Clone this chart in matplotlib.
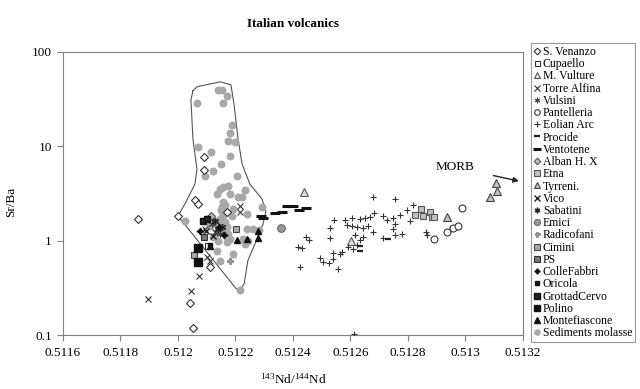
import matplotlib
matplotlib.use("Agg")
import matplotlib.pyplot as plt
from matplotlib.ticker import FixedLocator, FixedFormatter, NullLocator

plt.rcParams['font.family'] = ['Liberation Serif', 'DejaVu Serif']

# ---------------- data ----------------
s_venanzo_x = [0.511861, 0.512000, 0.512059, 0.512070, 0.512042, 0.512052, 0.512111, 0.512090, 0.512090, 0.512170]
s_venanzo_y = [1.71, 1.83, 2.70, 2.45, 0.217, 0.1186, 0.532, 7.66, 5.58, 2.02]

cupaello_x = [0.512104]
cupaello_y = [0.885]

m_vulture_x = [0.512438, 0.512602]
m_vulture_y = [3.28, 1.00]

torre_alfina_x = [0.511896, 0.512045, 0.512073, 0.512100, 0.512111, 0.512094, 0.512129, 0.512216, 0.512216]
torre_alfina_y = [0.239, 0.290, 0.418, 0.679, 0.615, 1.34, 1.24, 2.33, 2.02]

vulsini_x = [0.512118, 0.512146]
vulsini_y = [1.51, 1.19]

pantelleria_x = [0.512988, 0.512936, 0.512956, 0.512974, 0.512890]
pantelleria_y = [2.22, 1.24, 1.37, 1.44, 1.03]

eolian_x = [0.512677, 0.512756, 0.512818, 0.512795, 0.512772, 0.512749, 0.512714, 0.512726,
            0.512682, 0.512668, 0.512650, 0.512633, 0.512604, 0.512581, 0.512543, 0.512587,
            0.512604, 0.512621, 0.512642, 0.512662, 0.512679, 0.512644, 0.512616, 0.512529,
            0.512529, 0.512445, 0.512457, 0.512418, 0.512430, 0.512755, 0.512749, 0.512807,
            0.512714, 0.512755, 0.512778, 0.512863, 0.512865, 0.512621, 0.512610, 0.512569,
            0.512563, 0.512540, 0.512494, 0.512505, 0.512526, 0.512540, 0.512424, 0.512557,
            0.512592, 0.512633, 0.512612]
eolian_y = [2.93, 2.77, 2.39, 2.12, 1.85, 1.75, 1.82, 1.64,
            1.97, 1.78, 1.73, 1.71, 1.75, 1.66, 1.64, 1.47,
            1.43, 1.39, 1.36, 1.43, 1.24, 1.09, 1.14, 1.36,
            1.07, 1.09, 1.01, 0.859, 0.843, 1.51, 1.34, 1.61,
            1.07, 1.16, 1.19, 1.25, 1.14, 0.893, 0.824, 0.760,
            0.730, 0.748, 0.658, 0.597, 0.586, 0.635, 0.528, 0.495,
            0.859, 1.01, 0.102]

procide_x = [0.512633, 0.512730, 0.512633]
procide_y = [0.785, 1.05, 0.885]

ventotene_x = [0.512289, 0.512296, 0.512337, 0.512362, 0.512380, 0.512400, 0.512421, 0.512445]
ventotene_y = [1.83, 1.75, 1.97, 2.02, 2.33, 2.33, 2.12, 2.22]

alban_x = [0.512115]
alban_y = [1.83]

etna_x = [0.512824, 0.512845, 0.512852, 0.512876, 0.512883, 0.512890]
etna_y = [1.88, 2.17, 1.83, 2.02, 1.79, 1.79]

tyrreni_x = [0.512936, 0.513106, 0.513110, 0.513085]
tyrreni_y = [1.79, 4.08, 3.36, 2.90]

vico_x = [0.512097, 0.512122]
vico_y = [1.27, 1.13]

sabatini_x = [0.512129, 0.512139, 0.512153]
sabatini_y = [1.63, 1.34, 1.40]

emici_x = [0.512358]
emici_y = [1.37]

radicofani_x = [0.512181]
radicofani_y = [0.615]

cimini_x = [0.512056, 0.512202]
cimini_y = [0.713, 1.34]

ps_x = [0.512090]
ps_y = [1.10]

collefabbri_x = [0.512143, 0.512160, 0.512077]
collefabbri_y = [1.40, 1.16, 1.27]

oricola_x = [0.512111]
oricola_y = [0.908]

grottad_x = [0.512087, 0.512100]
grottad_y = [1.63, 1.70]

polino_x = [0.512070, 0.512070]
polino_y = [0.843, 0.601]

montefiascone_x = [0.512278, 0.512278, 0.512240, 0.512205, 0.512111]
montefiascone_y = [1.27, 1.08, 1.05, 1.026, 0.885]

sediments_x = [0.512139, 0.512153, 0.512170, 0.512066, 0.512156, 0.512188, 0.512181, 0.512174,
               0.512198, 0.512070, 0.512115, 0.512181, 0.512150, 0.512122, 0.512094, 0.512205,
               0.512156, 0.512174, 0.512136, 0.512146, 0.512233, 0.512181, 0.512209, 0.512223,
               0.512292, 0.512240, 0.512024, 0.512240, 0.512261, 0.512282, 0.512226, 0.512243,
               0.512233, 0.512136, 0.512146, 0.512191, 0.512216, 0.512156, 0.512153, 0.512156,
               0.512153, 0.512163, 0.512146, 0.512170, 0.512156, 0.512174, 0.512181, 0.512136,
               0.512122, 0.512139, 0.512170, 0.512188, 0.512191, 0.512129, 0.512111, 0.512163,
               0.512150, 0.512160, 0.512146]
sediments_y = [39.8, 39.8, 34.4, 29.0, 29.0, 17.0, 14.0, 11.3,
               11.0, 9.75, 8.65, 7.85, 6.47, 5.46, 4.83, 4.83,
               3.70, 3.79, 3.12, 3.52, 3.44, 3.12, 2.90, 2.90,
               2.28, 1.92, 1.63, 1.34, 1.34, 1.31, 1.05, 1.00,
               0.929, 0.785, 0.615, 0.730, 0.298, 2.57, 2.28, 2.02,
               1.79, 1.58, 1.44, 1.40, 1.24, 1.19, 1.05, 1.24,
               1.10, 1.00, 0.976, 1.83, 2.17, 1.58, 1.44, 2.40,
               2.10, 1.90, 1.70]

field_x = [0.512052, 0.512066, 0.512146, 0.512184, 0.512195, 0.512209, 0.512223, 0.512250,
           0.512292, 0.512306, 0.512296, 0.512271, 0.512243, 0.512230, 0.512216, 0.512202,
           0.512000, 0.512024, 0.512059, 0.512066, 0.512052, 0.512045, 0.512052]
field_y = [38.8, 42.8, 48.3, 45.0, 27.7, 11.9, 6.47, 3.98,
           2.77, 2.07, 1.51, 0.976, 0.615, 0.35, 0.298, 0.31,
           1.83, 2.45, 3.98, 5.73, 11.9, 31.2, 38.8]

x_ticks = [0.5116, 0.5118, 0.5120, 0.5122, 0.5124, 0.5126, 0.5128, 0.5130, 0.5132]
x_tick_labels = ['0.5116', '0.5118', '0.512', '0.5122', '0.5124', '0.5126', '0.5128', '0.513', '0.5132']
y_ticks = [0.1, 1, 10, 100]
y_tick_labels = ['0.1', '1', '10', '100']

# ---------------- figure ----------------
fig = plt.figure(figsize=(6.4, 3.89), dpi=100)
ax = fig.add_axes([63/640, 1-335/389, 460/640, 283/389])
ax.set_yscale('log')
ax.set_xlim(0.5116, 0.5132)
ax.set_ylim(0.1, 100)

ax.plot(field_x, field_y, color='#555555', lw=0.8, zorder=1)

ast = (6, 2, 0)
series = [
    ('S. Venanzo', s_venanzo_x, s_venanzo_y, dict(marker='D', mfc='white', mec='#333333', ms=4.2, mew=0.8)),
    ('Cupaello', cupaello_x, cupaello_y, dict(marker='s', mfc='white', mec='#333333', ms=4.5, mew=0.8)),
    ('M. Vulture', m_vulture_x, m_vulture_y, dict(marker='^', mfc='#e0e0e0', mec='#555555', ms=5.5, mew=0.8)),
    ('Torre Alfina', torre_alfina_x, torre_alfina_y, dict(marker='x', color='#333333', ms=5, mew=0.8)),
    ('Vulsini', vulsini_x, vulsini_y, dict(marker=ast, color='#444444', ms=5, mew=0.8)),
    ('Pantelleria', pantelleria_x, pantelleria_y, dict(marker='o', mfc='white', mec='#333333', ms=5, mew=0.8)),
    ('Eolian Arc', eolian_x, eolian_y, dict(marker='+', color='#333333', ms=5, mew=0.8)),
    ('Procide', procide_x, procide_y, dict(marker='_', color='#222222', ms=5, mew=1.6)),
    ('Ventotene', ventotene_x, ventotene_y, dict(marker='_', color='#111111', ms=7, mew=2.2)),
    ('Alban H. X', alban_x, alban_y, dict(marker='D', mfc='#bbbbbb', mec='#555555', ms=4.2, mew=0.8)),
    ('Etna', etna_x, etna_y, dict(marker='s', mfc='#c0c0c0', mec='#555555', ms=5, mew=0.8)),
    ('Tyrreni.', tyrreni_x, tyrreni_y, dict(marker='^', mfc='#c0c0c0', mec='#444444', ms=5.5, mew=0.8)),
    ('Vico', vico_x, vico_y, dict(marker='x', color='#222222', ms=5, mew=1.0)),
    ('Sabatini', sabatini_x, sabatini_y, dict(marker=ast, color='#222222', ms=5, mew=1.0)),
    ('Emici', emici_x, emici_y, dict(marker='o', mfc='#999999', mec='#666666', ms=5.5, mew=0.8)),
    ('Radicofani', radicofani_x, radicofani_y, dict(marker='P', mfc='#999999', mec='#777777', ms=4.5, mew=0.5)),
    ('Cimini', cimini_x, cimini_y, dict(marker='s', mfc='#aaaaaa', mec='#444444', ms=5, mew=0.8)),
    ('PS', ps_x, ps_y, dict(marker='s', mfc='#777777', mec='#333333', ms=5, mew=0.8)),
    ('ColleFabbri', collefabbri_x, collefabbri_y, dict(marker=(4, 1, 0), color='#111111', ms=5)),
    ('Oricola', oricola_x, oricola_y, dict(marker='s', color='#111111', ms=3.5)),
    ('GrottadCervo', grottad_x, grottad_y, dict(marker='s', mfc='#222222', mec='#111111', ms=5)),
    ('Polino', polino_x, polino_y, dict(marker='s', color='#111111', ms=6)),
    ('Montefiascone', montefiascone_x, montefiascone_y, dict(marker='^', color='#111111', ms=5)),
    ('Sediments molasse', sediments_x, sediments_y, dict(marker='o', mfc='#a8a8a8', mec='#a8a8a8', ms=4.7)),
]

handles = []
for name, xs, ys, kw in series:
    z = 2 if name == 'Sediments molasse' else 3
    h, = ax.plot(xs, ys, linestyle='none', label=name, zorder=z, **kw)
    handles.append(h)

# axes styling
for sp in ax.spines.values():
    sp.set_color('#808080')
    sp.set_linewidth(0.8)
ax.xaxis.set_major_locator(FixedLocator(x_ticks))
ax.xaxis.set_major_formatter(FixedFormatter(x_tick_labels))
ax.yaxis.set_major_locator(FixedLocator(y_ticks))
ax.yaxis.set_major_formatter(FixedFormatter(y_tick_labels))
ax.xaxis.set_minor_locator(NullLocator())
ax.yaxis.set_minor_locator(NullLocator())
ax.tick_params(axis='both', direction='out', length=4, width=0.8, color='#808080',
               labelsize=9.5)
ax.tick_params(axis='x', pad=5)
ax.tick_params(axis='y', pad=4)

ax.set_title('Italian volcanics', fontsize=9.5, fontweight='bold', pad=18)
ax.set_xlabel(r'$\mathregular{^{143}Nd/^{144}Nd}$', fontsize=9.5, labelpad=9)
ax.set_ylabel('Sr/Ba', fontsize=9.5)
ax.yaxis.set_label_coords(-0.10, 0.47)

ax.annotate('MORB', xy=(0.513186, 4.28), xytext=(0.512963, 6.0),
            fontsize=9.5, ha='center', va='center',
            arrowprops=dict(arrowstyle='-|>', color='#222222', lw=1.0,
                            shrinkA=12, shrinkB=0, mutation_scale=8))

leg = fig.legend(handles=handles, loc='upper left',
                 bbox_to_anchor=(531/640, 1-43/389), fontsize=8.5,
                 frameon=True, fancybox=False, edgecolor='#808080',
                 handlelength=0.6, handletextpad=0.15, borderpad=0.25,
                 labelspacing=0.02, borderaxespad=0, markerscale=0.8)
leg.get_frame().set_linewidth(0.8)

fig.savefig('out.png', dpi=100)
